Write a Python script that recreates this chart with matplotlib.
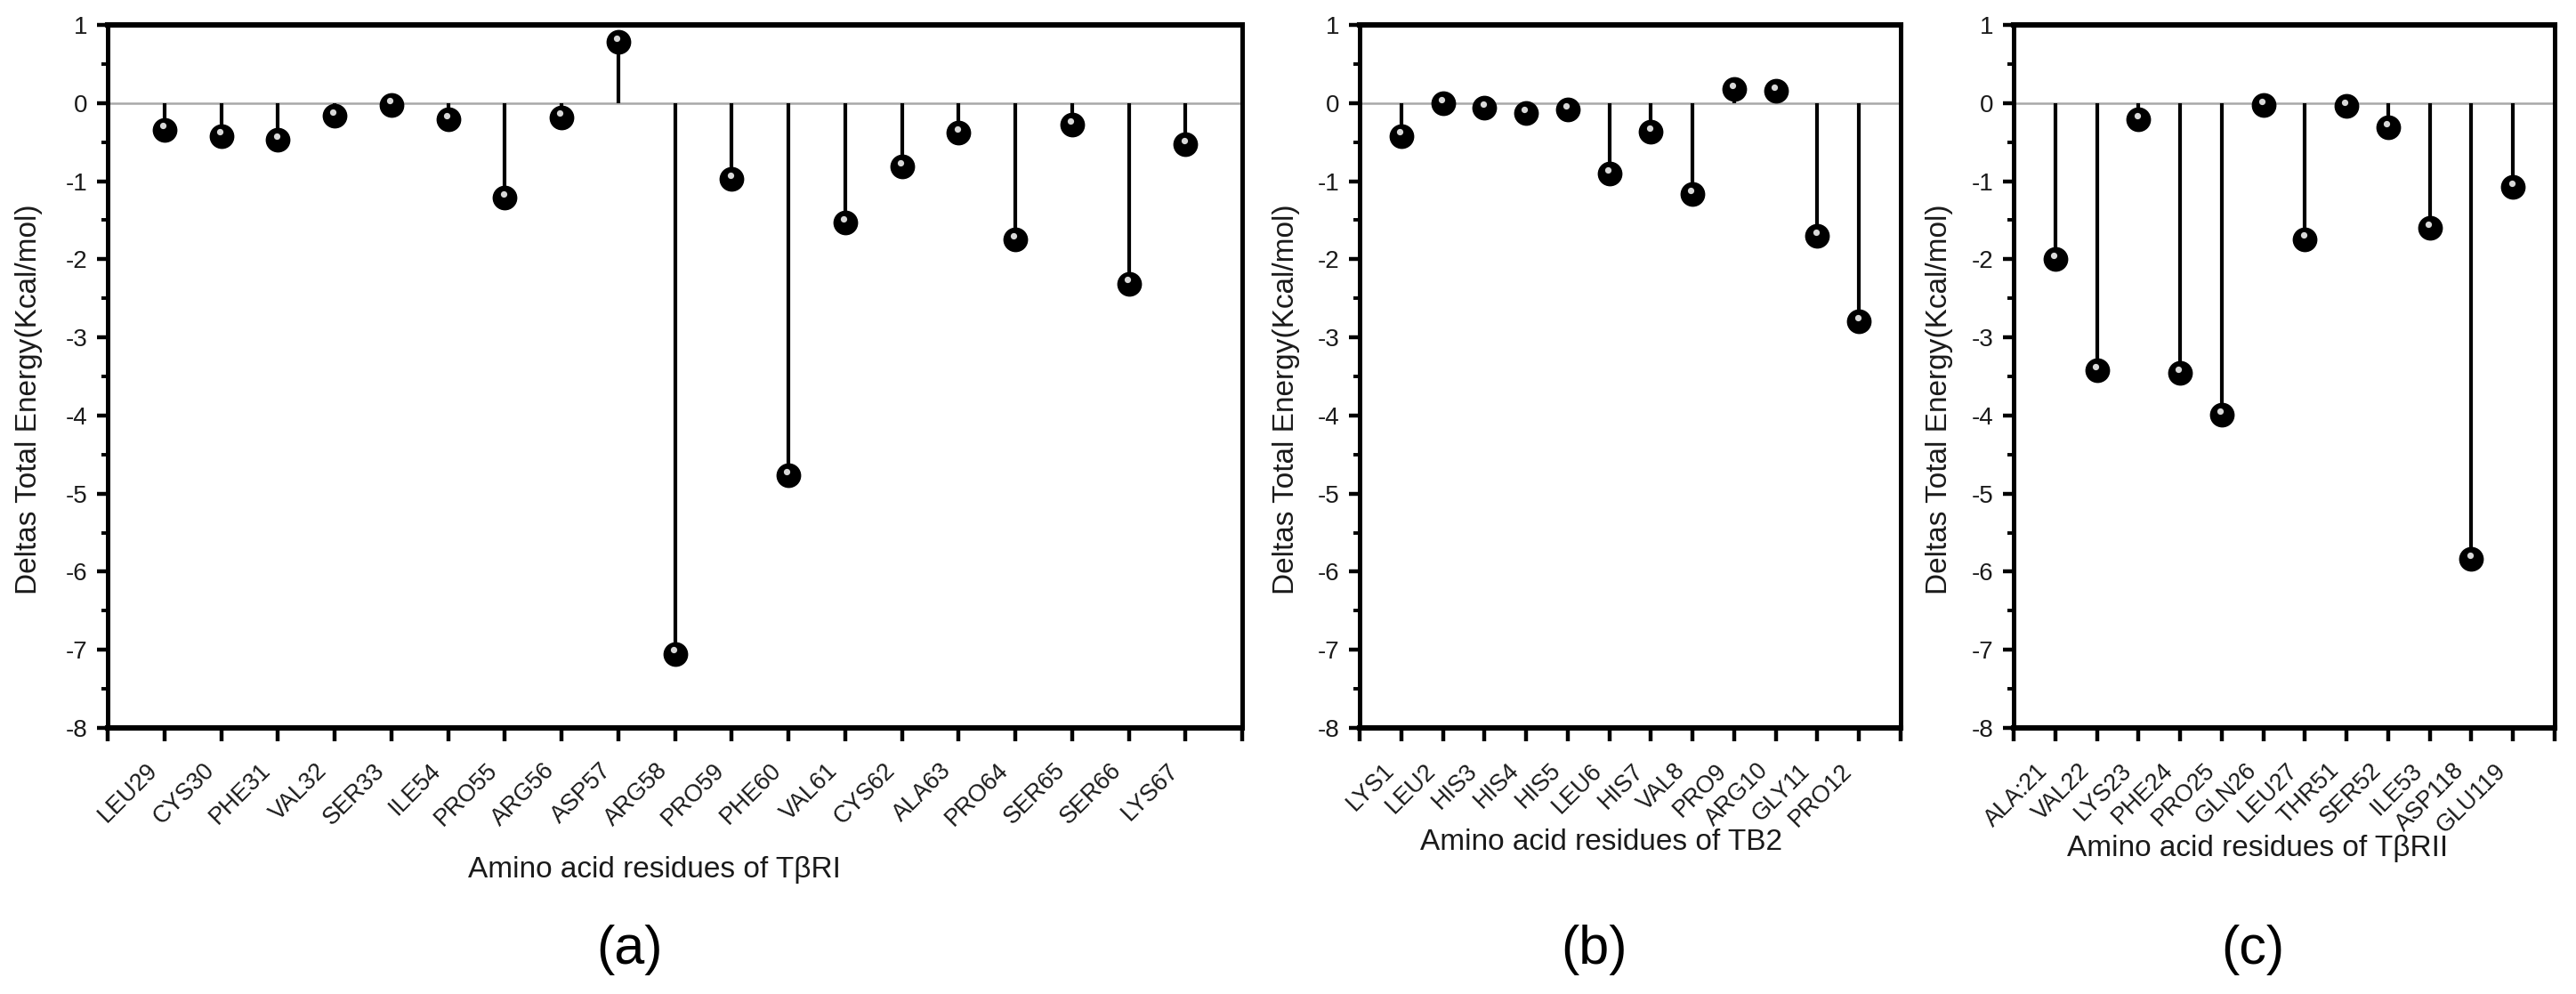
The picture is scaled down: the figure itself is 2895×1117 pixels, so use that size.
import numpy as np
import matplotlib
matplotlib.use("Agg")
import matplotlib.pyplot as plt
from matplotlib.ticker import MultipleLocator, FixedLocator
import matplotlib.transforms as mtransforms

plt.rcParams['font.family'] = ['Liberation Sans', 'DejaVu Sans']

# dữ liệu
res_a = ["LEU29", "CYS30", "PHE31", "VAL32", "SER33", "ILE54", "PRO55", "ARG56", "ASP57",
         "ARG58", "PRO59", "PHE60", "VAL61", "CYS62", "ALA63", "PRO64", "SER65", "SER66", "LYS67"]
energy_a = [-0.34, -0.42, -0.47, -0.16, -0.02, -0.21, -1.21, -0.18, 0.78,
            -7.05, -0.97, -4.77, -1.53, -0.81, -0.38, -1.75, -0.28, -2.31, -0.53]

res_b = ["LYS1", "LEU2", "HIS3", "HIS4", "HIS5", "LEU6", "HIS7", "VAL8", "PRO9",
         "ARG10", "GLY11", "PRO12"]
energy_b = [-0.42, 0.0, -0.06, -0.13, -0.08, -0.90, -0.37, -1.17, 0.18, 0.16, -1.70, -2.79]

res_c = ["ALA:21", "VAL22", "LYS23", "PHE24", "PRO25", "GLN26", "LEU27", "THR51", "SER52",
         "ILE53", "ASP118", "GLU119"]
energy_c = [-2.00, -3.42, -0.21, -3.46, -3.99, -0.03, -1.74, -0.04, -0.31, -1.60, -5.84, -1.07]

xlabels = ["Amino acid residues of T\u03b2RI", "Amino acid residues of TB2",
           "Amino acid residues of T\u03b2RII"]
panel_tags = ["(a)", "(b)", "(c)"]

W, H = 2895, 1117
dpi = 200
fig = plt.figure(figsize=(W / dpi, H / dpi), dpi=dpi)

# vị trí các trục (pixel)
boxes = [(121, 1396), (1528, 2136), (2263, 2871)]
top_px, bot_px = 28, 818
xlab_pos = [(0.482, -0.2025), (0.447, -0.163), (0.451, -0.171)]
ylab_x = [-0.0698, -0.1365, -0.138]
tag_x = [708, 1792, 2532]

data = [(res_a, energy_a), (res_b, energy_b), (res_c, energy_c)]
text_col = "#1a1a1a"
shift_lbl = mtransforms.ScaledTranslation(-4.3 / 72, 0, fig.dpi_scale_trans)

for i, ((l, r), (names, vals)) in enumerate(zip(boxes, data)):
    ax = fig.add_axes([l / W, 1 - bot_px / H, (r - l) / W, (bot_px - top_px) / H])
    n = len(names)
    x = np.arange(1, n + 1)

    ax.axhline(0, color="#a8a8a8", lw=0.9, zorder=1)
    ax.vlines(x, 0, vals, color="black", lw=1.5, zorder=2)
    ax.plot(x, vals, "o", color="black", ms=9, zorder=3)
    hl = mtransforms.offset_copy(ax.transData, fig=fig, x=-0.6, y=1.5, units="points")
    ax.plot(x, vals, "o", color="#d8d8d8", ms=2.6, mew=0, transform=hl, zorder=4)

    ax.set_xlim(0, n + 1)
    ax.set_ylim(-8, 1)
    ax.xaxis.set_major_locator(FixedLocator(np.arange(0, n + 2)))
    ax.set_xticklabels([""] + names + [""], rotation=45, ha="right", va="center",
                       rotation_mode="anchor", fontsize=9.7, color=text_col)
    ax.yaxis.set_major_locator(MultipleLocator(1))
    ax.yaxis.set_minor_locator(MultipleLocator(0.5))
    ax.set_yticks(np.arange(-8, 2))
    ax.set_yticklabels([str(v) for v in range(-8, 2)], fontsize=10, color=text_col)

    ax.tick_params(axis="x", direction="out", length=5.5, width=1.6, pad=10.4)
    ax.tick_params(axis="y", which="major", direction="out", length=4.5, width=1.6, pad=3.5)
    ax.tick_params(axis="y", which="minor", direction="out", length=2.5, width=1.4)
    ax.tick_params(top=False, right=False)

    for lbl in ax.get_xticklabels():
        lbl.set_transform(lbl.get_transform() + shift_lbl)

    for side in ["left", "right"]:
        ax.spines[side].set_linewidth(1.8)
    for side in ["top", "bottom"]:
        ax.spines[side].set_linewidth(2.2)

    ax.set_xlabel(xlabels[i], fontsize=12, color=text_col, va="center")
    ax.xaxis.set_label_coords(*xlab_pos[i])
    ax.set_ylabel("Deltas Total Energy(Kcal/mol)", fontsize=12, color=text_col, va="center")
    ax.yaxis.set_label_coords(ylab_x[i], 0.468)

    fig.text(tag_x[i] / W, 1 - 1067 / H, panel_tags[i], fontsize=22, ha="center",
             va="center", color="black")

fig.savefig("out.png", dpi=dpi)
